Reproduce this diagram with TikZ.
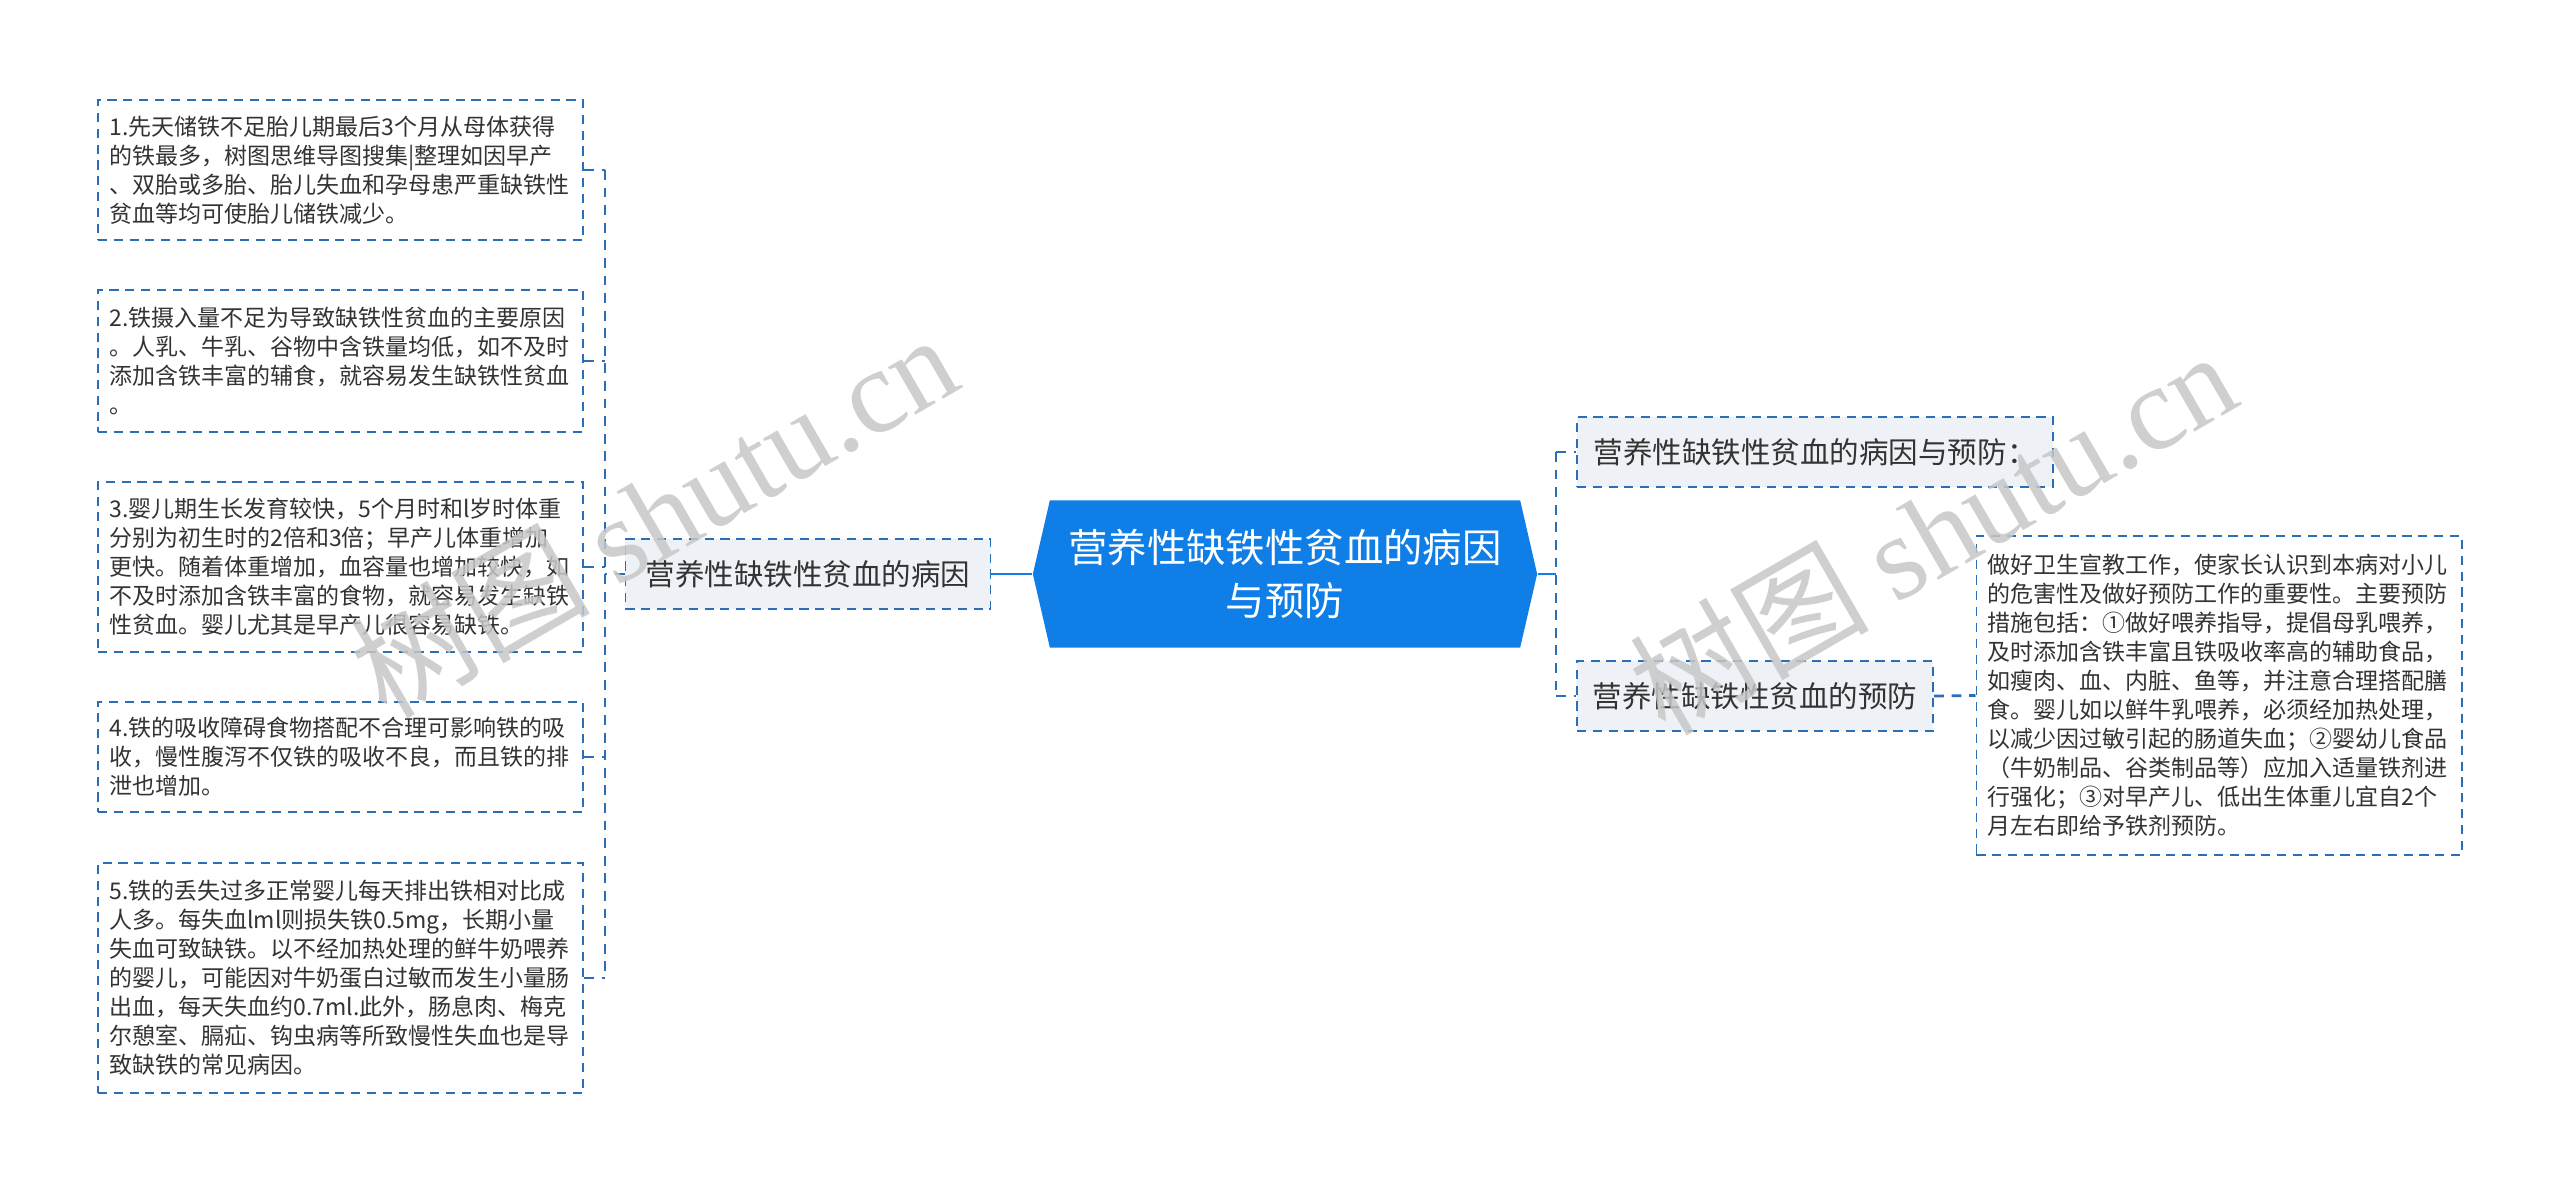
\documentclass[tikz,border=0pt]{standalone}
\usepackage{fontspec}
\setmainfont{Noto Sans CJK SC}
\newfontfamily\wmlatin{Liberation Serif}
\usetikzlibrary{shapes.symbols}
\definecolor{rootblue}{HTML}{0F7EE6}
\definecolor{edgeblue}{HTML}{2A6EB8}
\definecolor{topicfill}{HTML}{EEF2F6}
\definecolor{inktext}{HTML}{333333}

\begin{document}
\begin{tikzpicture}[x=0.01cm,y=-0.01cm,
  every node/.style={text=inktext},
  rootnode/.style={signal,signal to=west and east,signal pointer angle=154,fill=rootblue,text=white,
    minimum width=5.04cm,minimum height=1.47cm,inner sep=0pt,align=center,
    font=\fontsize{11.2pt}{15.1pt}\selectfont},
  topic/.style={draw=edgeblue,fill=topicfill,dash pattern=on 2.6pt off 1.9pt,line width=0.5pt,
    minimum height=0.7cm,inner sep=0pt,font=\fontsize{8.4pt}{10pt}\selectfont},
  leaf/.style={draw=edgeblue,fill=white,dash pattern=on 2.6pt off 1.9pt,line width=0.5pt,
    minimum width=4.85cm,text width=4.62cm,inner xsep=0.115cm,inner ysep=0pt,align=left,
    font=\fontsize{6.54pt}{8.25pt}\selectfont},
  trunk/.style={draw=rootblue,line width=0.65pt},
  bracket/.style={draw=edgeblue,line width=0.8pt,dash pattern=on 2.8pt off 2.2pt},
  wmark/.style={text=black!22,opacity=0.85,rotate=30,font=\fontsize{34pt}{34pt}\selectfont}]

  \useasboundingbox (0,0) rectangle (2560,1193);

  % centre
  \node[rootnode] (root) at (1285,574) {营养性缺铁性贫血的病因\\与预防};

  % main topics
  \node[topic,minimum width=3.65cm] (cause) at (808,574) {营养性缺铁性贫血的病因};
  \node[topic,minimum width=4.76cm] (summary) at (1815,452) {营养性缺铁性贫血的病因与预防：};
  \node[topic,minimum width=3.56cm] (prevent) at (1755,696) {营养性缺铁性贫血的预防};

  % causes
  \node[leaf,minimum height=1.40cm] (c1) at (340.5,170) {1.先天储铁不足胎儿期最后3个月从母体获得\\的铁最多，树图思维导图搜集|整理如因早产\\、双胎或多胎、胎儿失血和孕母患严重缺铁性\\贫血等均可使胎儿储铁减少。};
  \node[leaf,minimum height=1.42cm] (c2) at (340.5,361) {2.铁摄入量不足为导致缺铁性贫血的主要原因\\。人乳、牛乳、谷物中含铁量均低，如不及时\\添加含铁丰富的辅食，就容易发生缺铁性贫血\\。};
  \node[leaf,minimum height=1.70cm] (c3) at (340.5,567) {3.婴儿期生长发育较快，5个月时和l岁时体重\\分别为初生时的2倍和3倍；早产儿体重增加\\更快。随着体重增加，血容量也增加较快，如\\不及时添加含铁丰富的食物，就容易发生缺铁\\性贫血。婴儿尤其是早产儿很容易缺铁。};
  \node[leaf,minimum height=1.10cm] (c4) at (340.5,757) {4.铁的吸收障碍食物搭配不合理可影响铁的吸\\收，慢性腹泻不仅铁的吸收不良，而且铁的排\\泄也增加。};
  \node[leaf,minimum height=2.30cm] (c5) at (340.5,978) {5.铁的丢失过多正常婴儿每天排出铁相对比成\\人多。每失血lml则损失铁0.5mg，长期小量\\失血可致缺铁。以不经加热处理的鲜牛奶喂养\\的婴儿，可能因对牛奶蛋白过敏而发生小量肠\\出血，每天失血约0.7ml.此外，肠息肉、梅克\\尔憩室、膈疝、钩虫病等所致慢性失血也是导\\致缺铁的常见病因。};

  % prevention
  \node[leaf,minimum height=3.19cm] (p1) at (2219,695.5) {做好卫生宣教工作，使家长认识到本病对小儿\\的危害性及做好预防工作的重要性。主要预防\\措施包括：①做好喂养指导，提倡母乳喂养，\\及时添加含铁丰富且铁吸收率高的辅助食品，\\如瘦肉、血、内脏、鱼等，并注意合理搭配膳\\食。婴儿如以鲜牛乳喂养，必须经加热处理，\\以减少因过敏引起的肠道失血；②婴幼儿食品\\（牛奶制品、谷类制品等）应加入适量铁剂进\\行强化；③对早产儿、低出生体重儿宜自2个\\月左右即给予铁剂预防。};

  \coordinate (lj) at (605,574);
  \coordinate (rj) at (1556,574);

  \draw[trunk] (root.west) -- (cause.east);
  \draw[trunk] (root.east) -- (rj);

  \draw[bracket] (lj |- c1.east) -- (lj |- c5.east);
  \draw[bracket] (cause.west) -- (lj);
  \foreach \n in {c1,c2,c3,c4,c5}
    \draw[bracket] (\n.east) -- (lj |- \n.east);

  \draw[bracket] (rj |- summary.west) -- (rj |- prevent.west);
  \draw[bracket] (rj |- summary.west) -- (summary.west);
  \draw[bracket] (rj |- prevent.west) -- (prevent.west);
  \draw[bracket] (prevent.east) -- (p1.west);

  % watermark
  \node[wmark] (wm1) at (653,514) {树图 {\wmlatin shutu.cn}};
  \node[wmark] (wm2) at (1932,531) {树图 {\wmlatin shutu.cn}};
\end{tikzpicture}
\end{document}
